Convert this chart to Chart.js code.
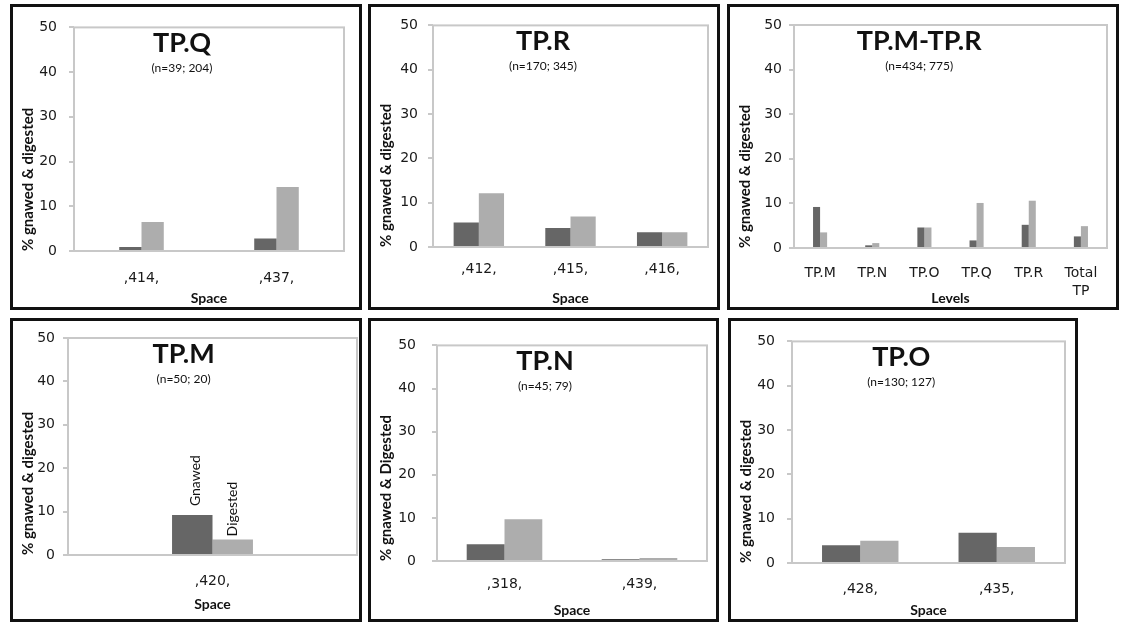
<!DOCTYPE html>
<html>
<head>
<meta charset="utf-8">
<script src="https://cdn.jsdelivr.net/npm/chart.js@4"></script>
<style>
  body { margin: 0; background: #fff; width: 1123px; height: 624px; position: relative; overflow: hidden; }
  .panel { position: absolute; border: 3px solid #111; box-sizing: border-box; background: #fff; }
  .panel canvas { display: block; }
</style>
</head>
<body>
<div class="panel" style="left:10px; top:4px; width:352px; height:306px;"><canvas id="tpQ" width="346" height="300"></canvas></div>
<div class="panel" style="left:368px; top:4px; width:352px; height:306px;"><canvas id="tpR" width="346" height="300"></canvas></div>
<div class="panel" style="left:727px; top:4px; width:392px; height:306px;"><canvas id="tpAll" width="386" height="300"></canvas></div>
<div class="panel" style="left:10px; top:318px; width:352px; height:304px;"><canvas id="tpM" width="346" height="298"></canvas></div>
<div class="panel" style="left:368px; top:318px; width:351px; height:304px;"><canvas id="tpN" width="345" height="298"></canvas></div>
<div class="panel" style="left:728px; top:318px; width:350px; height:304px;"><canvas id="tpO" width="344" height="298"></canvas></div>
<script>
// values (% gnawed / % digested)
const qSpaces = [',414,', ',437,'];
const qGnawed = [0.9, 2.8];
const qDigested = [6.5, 14.3];

const rSpaces = [',412,', ',415,', ',416,'];
const rGnawed = [5.5, 4.3, 3.3];
const rDigested = [12.1, 6.9, 3.3];

const levels = ['TP.M', 'TP.N', 'TP.O', 'TP.Q', 'TP.R', ['Total', 'TP']];
const levelGnawed = [9.2, 0.6, 4.6, 1.7, 5.2, 2.6];
const levelDigested = [3.5, 1.1, 4.6, 10.1, 10.6, 4.9];

const mSpaces = [',420,'];
const mGnawed = [9.2];
const mDigested = [3.6];

const nSpaces = [',318,', ',439,'];
const nGnawed = [3.9, 0.4];
const nDigested = [9.7, 0.7];

const oSpaces = [',428,', ',435,'];
const oGnawed = [4.0, 6.8];
const oDigested = [5.0, 3.6];

const yMin = 0, yMax = 50, yStep = 10;

const GNAWED_COLOR = '#666666';
const DIGESTED_COLOR = '#adadad';

// plot frame, panel title and (optional) labels above bars
const panelDecor = {
    id: 'panelDecor',
    beforeDatasetsDraw(chart, args, opts) {
        const { ctx, chartArea: a } = chart;
        ctx.save();
        ctx.strokeStyle = '#c8c8c8';
        ctx.lineWidth = 2;
        ctx.strokeRect(a.left, a.top, a.right - a.left, a.bottom - a.top);
        ctx.restore();
    },
    afterDatasetsDraw(chart, args, opts) {
        const { ctx, chartArea: a } = chart;
        const cx = a.left + (a.right - a.left) * 0.4;
        ctx.save();
        ctx.fillStyle = '#111';
        ctx.textAlign = 'center';
        ctx.textBaseline = 'alphabetic';
        ctx.font = 'bold 27px Lato';
        ctx.fillText(opts.title, cx, a.top + 25);
        ctx.font = '12px Lato';
        ctx.textBaseline = 'middle';
        ctx.fillText(opts.sub, cx, a.top + 41);
        if (opts.barLabels) {
            ctx.font = '14px Lato';
            ctx.textAlign = 'left';
            opts.barLabels.forEach((txt, i) => {
                const bar = chart.getDatasetMeta(i).data[0];
                ctx.save();
                ctx.translate(bar.x + (i === 0 ? 3 : 0), bar.y - (i === 0 ? 9 : 3));
                ctx.rotate(-Math.PI / 2);
                ctx.fillText(txt, 0, 0);
                ctx.restore();
            });
        }
        ctx.restore();
    }
};

function makePanel(id, p) {
    const ctx = document.getElementById(id).getContext('2d');
    return new Chart(ctx, {
        type: 'bar',
        plugins: [panelDecor],
        data: {
            labels: p.labels,
            datasets: [{
                label: 'Gnawed',
                data: p.gnawed,
                backgroundColor: GNAWED_COLOR,
                barPercentage: 1,
                categoryPercentage: p.catPct
            }, {
                label: 'Digested',
                data: p.digested,
                backgroundColor: DIGESTED_COLOR,
                barPercentage: 1,
                categoryPercentage: p.catPct
            }]
        },
        options: {
            responsive: false,
            animation: false,
            layout: { padding: { top: p.top, right: p.right, bottom: 0, left: 0 } },
            plugins: {
                legend: { display: false },
                tooltip: { enabled: false },
                panelDecor: { title: p.title, sub: p.sub, barLabels: p.barLabels }
            },
            scales: {
                x: {
                    afterFit(scale) { scale.height = p.xHeight; },
                    grid: { display: false, drawTicks: false },
                    border: { display: false },
                    ticks: {
                        padding: p.xPad,
                        color: '#1a1a1a',
                        maxRotation: 0,
                        font: { family: 'DejaVu Sans', size: 14, lineHeight: 1.3 }
                    },
                    title: {
                        display: true,
                        text: p.xTitle,
                        color: '#111',
                        padding: { top: 0, bottom: p.xTitlePad || 0 },
                        font: { family: 'Lato', size: 14, weight: 'bold' }
                    }
                },
                y: {
                    min: yMin,
                    max: yMax,
                    afterFit(scale) { scale.width = p.left; },
                    grid: { drawOnChartArea: false, tickLength: 5, color: '#c8c8c8', lineWidth: 2 },
                    border: { display: false },
                    ticks: {
                        stepSize: yStep,
                        padding: p.yPad,
                        color: '#1a1a1a',
                        font: { family: 'DejaVu Sans', size: 14 }
                    },
                    title: {
                        display: true,
                        text: p.yTitle,
                        align: 'start',
                        color: '#111',
                        padding: { top: 6, bottom: 0 },
                        font: { family: 'Lato', size: 15, weight: 'bold' }
                    }
                }
            }
        }
    });
}

const tpQ = makePanel('tpQ', {
    labels: qSpaces, gnawed: qGnawed, digested: qDigested, catPct: 0.33,
    title: 'TP.Q', sub: '(n=39; 204)', xTitle: 'Space', yTitle: '% gnawed & digested',
    left: 61, top: 17, right: 15, xHeight: 56, xPad: 18, yPad: 12
});

const tpR = makePanel('tpR', {
    labels: rSpaces, gnawed: rGnawed, digested: rDigested, catPct: 0.55,
    title: 'TP.R', sub: '(n=170; 345)', xTitle: 'Space', yTitle: '% gnawed & digested',
    left: 62, top: 18, right: 9, xHeight: 60, xPad: 13, yPad: 10
});

const tpAll = makePanel('tpAll', {
    labels: levels, gnawed: levelGnawed, digested: levelDigested, catPct: 0.27,
    title: 'TP.M-TP.R', sub: '(n=434; 775)', xTitle: 'Levels', yTitle: '% gnawed & digested',
    left: 64, top: 18, right: 9, xHeight: 59, xPad: 16, yPad: 7
});

const tpM = makePanel('tpM', {
    labels: mSpaces, gnawed: mGnawed, digested: mDigested, catPct: 0.28,
    title: 'TP.M', sub: '(n=50; 20)', xTitle: 'Space', yTitle: '% gnawed & digested',
    left: 55, top: 17, right: 2, xHeight: 64, xPad: 17, yPad: 8, xTitlePad: 6,
    barLabels: ['Gnawed', 'Digested']
});

const tpN = makePanel('tpN', {
    labels: nSpaces, gnawed: nGnawed, digested: nDigested, catPct: 0.56,
    title: 'TP.N', sub: '(n=45; 79)', xTitle: 'Space', yTitle: '% gnawed & Digested',
    left: 66, top: 17, right: 9, xHeight: 58, xPad: 14, yPad: 16
});

const tpO = makePanel('tpO', {
    labels: oSpaces, gnawed: oGnawed, digested: oDigested, catPct: 0.56,
    title: 'TP.O', sub: '(n=130; 127)', xTitle: 'Space', yTitle: '% gnawed & digested',
    left: 61, top: 20, right: 10, xHeight: 56, xPad: 17, yPad: 12
});
</script>
</body>
</html>
